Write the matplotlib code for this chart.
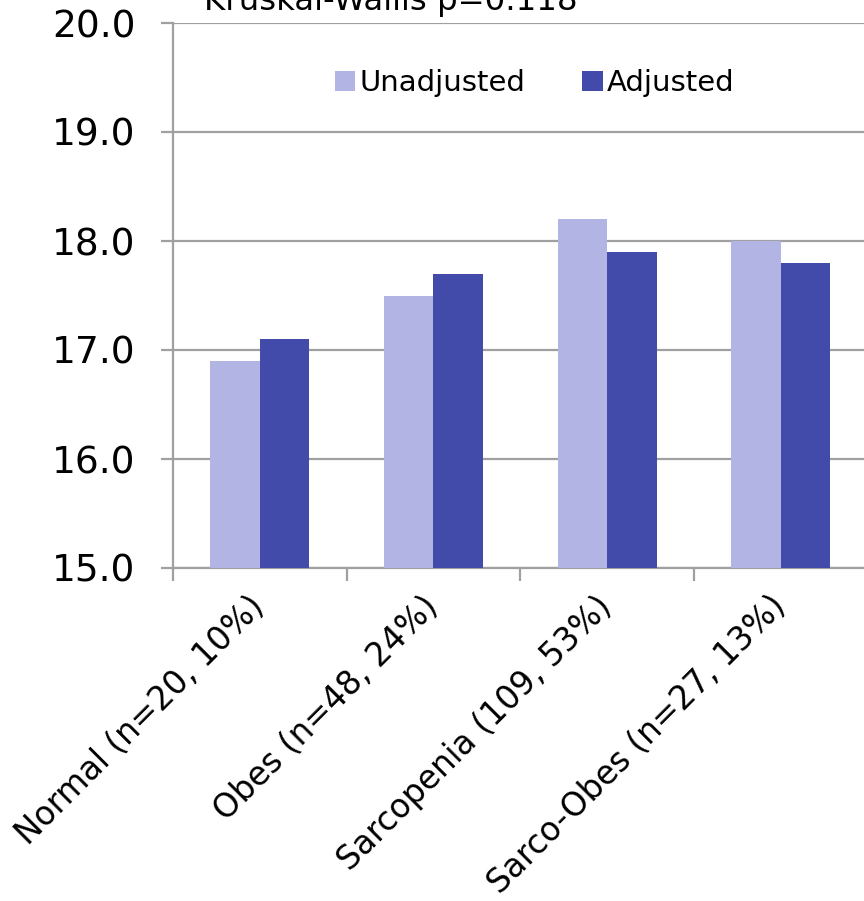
import matplotlib
matplotlib.use("Agg")
import matplotlib.pyplot as plt
import numpy as np

categories = ["Normal (n=20, 10%)", "Obes (n=48, 24%)", "Sarcopenia (109, 53%)", "Sarco-Obes (n=27, 13%)"]
unadjusted = [16.9, 17.5, 18.2, 18.0]
adjusted = [17.1, 17.7, 17.9, 17.8]
series_names = ["Unadjusted", "Adjusted"]
yticks = [15.0, 16.0, 17.0, 18.0, 19.0, 20.0]
title = "Kruskal-Wallis p=0.118"

light = "#B2B4E4"
dark = "#424BAA"
grey = "#A0A0A0"

fig = plt.figure(figsize=(8.64, 9.01), dpi=100)
ax = fig.add_axes([173/864, 1-568/901, (867.5-173)/864, (568-23)/901])

x = np.arange(len(categories))
w = 0.285
ax.bar(x - w/2, np.array(unadjusted) - 15, bottom=15, width=w, color=light, label=series_names[0], zorder=3)
ax.bar(x + w/2, np.array(adjusted) - 15, bottom=15, width=w, color=dark, label=series_names[1], zorder=3)

ax.set_xlim(-0.5, len(categories) - 0.5)
ax.set_ylim(15, 20)
ax.set_yticks(yticks)
ax.set_yticklabels([f"{v:.1f}" for v in yticks], fontsize=27)
ax.yaxis.grid(True, color=grey, linewidth=1.6, zorder=0)
ax.set_axisbelow(True)

ax.set_xticks(x)
ax.set_xticklabels(categories, rotation=45, ha="right", va="center", rotation_mode="anchor", fontsize=23.5)
ax.tick_params(axis="x", which="major", length=0, pad=24)
ax.set_xticks(np.arange(len(categories)) - 0.5, minor=True)
ax.tick_params(axis="x", which="minor", length=9, width=1.6, color=grey, direction="out")
ax.tick_params(axis="y", length=9, width=1.6, color=grey, pad=18)

for s in ["top", "right"]:
    ax.spines[s].set_visible(False)
for s in ["left", "bottom"]:
    ax.spines[s].set_color(grey)
    ax.spines[s].set_linewidth(1.6)

leg = fig.legend(loc="center", bbox_to_anchor=(0.619, 0.908), ncol=2, frameon=False,
                 fontsize=21, handlelength=0.69, handleheight=0.69, handletextpad=0.15,
                 columnspacing=1.95)

fig.text(0.4525, 0.989, title, ha="center", va="baseline", fontsize=23.3)

fig.savefig("out.png", dpi=100)
